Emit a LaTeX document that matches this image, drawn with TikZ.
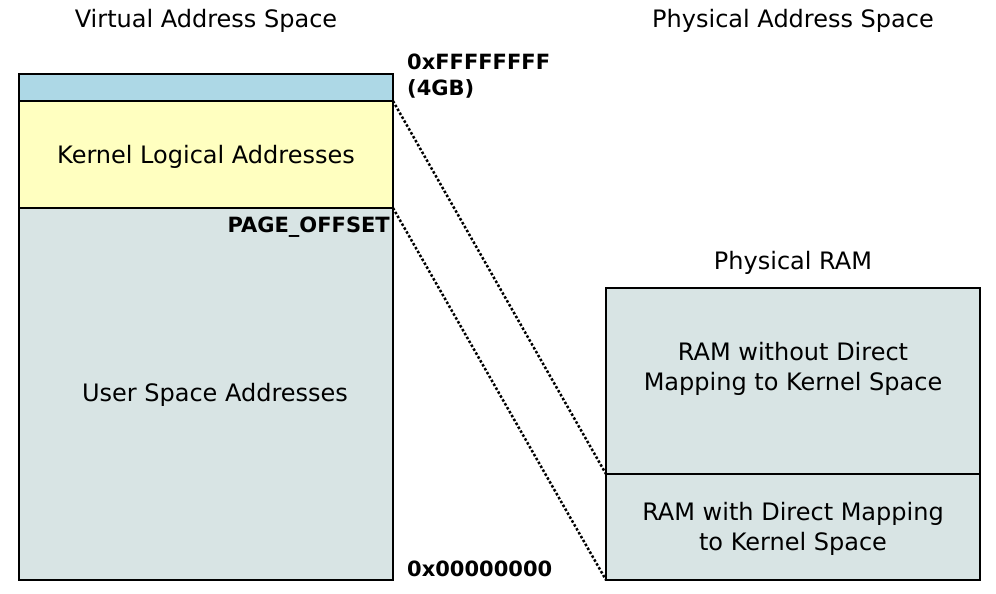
\documentclass[tikz,border=0pt]{standalone}
\usepackage{fontspec}
\setmainfont{DejaVu Sans}
\definecolor{topblue}{HTML}{ADD8E6}
\definecolor{kyellow}{HTML}{FFFFC0}
\definecolor{boxgray}{HTML}{D8E4E4}
\tikzset{
  region/.style={draw=black, line width=2.5pt},
  lbl/.style={font=\fontsize{24}{30}\selectfont, inner sep=0pt},
  blbl/.style={font=\fontsize{21}{26}\selectfont\bfseries, inner sep=0pt},
  mapline/.style={line width=2.5pt, dotted}
}
\begin{document}
\begin{tikzpicture}[x=1pt,y=-1pt]
\useasboundingbox (0,0) rectangle (996,594);
% left column
\draw[region, fill=boxgray] (19,208) rectangle (393,580);
\draw[region, fill=kyellow] (19,101) rectangle (393,208);
\draw[region, fill=topblue] (19,74) rectangle (393,101);
\coordinate (ktop) at (393,101);
\coordinate (kbot) at (393,208);
% right box
\draw[region, fill=boxgray] (606,288) rectangle (980,474);
\draw[region, fill=boxgray] (606,474) rectangle (980,580);
\coordinate (rmid) at (606,474);
\coordinate (rbot) at (606,580);
% mapping lines
\draw[mapline] (ktop) -- (rmid);
\draw[mapline] (kbot) -- (rbot);
% labels
\node[lbl] (vas) at (206,21) {Virtual Address Space};
\node[lbl] (pas) at (793,21) {Physical Address Space};
\node[lbl] (pram) at (793,263) {Physical RAM};
\node[lbl] (kla) at (206,157) {Kernel Logical Addresses};
\node[lbl] (usa) at (215,395) {User Space Addresses};
\node[lbl, align=center] (nodm) at (793,369) {RAM without Direct\\Mapping to Kernel Space};
\node[lbl, align=center] (dm) at (793,529) {RAM with Direct Mapping\\to Kernel Space};
\node[blbl, anchor=west] (ff) at (407,62) {0xFFFFFFFF};
\node[blbl, anchor=west] (gb) at (407,89) {(4GB)};
\node[blbl, anchor=east] (po) at (390,227) {PAGE\_OFFSET};
\node[blbl, anchor=west] (zero) at (407,569) {0x00000000};
\end{tikzpicture}
\end{document}
